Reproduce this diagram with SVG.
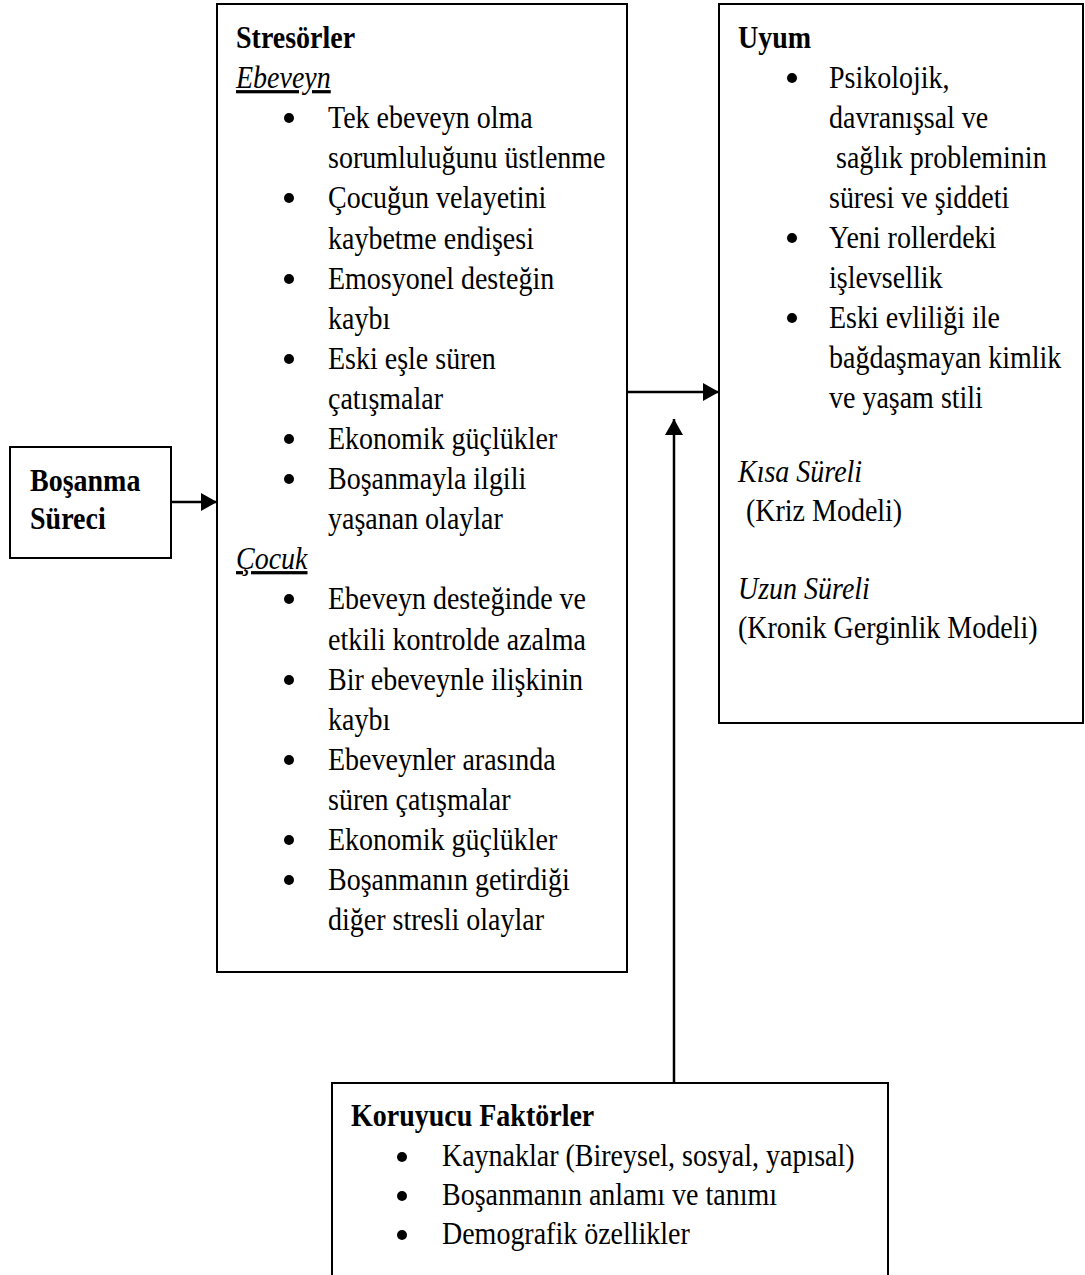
<svg xmlns="http://www.w3.org/2000/svg" width="1085" height="1275" viewBox="0 0 1085 1275">
<style>
  text { font-family: "Liberation Serif", "Times New Roman", serif; font-size: 28px; fill: #000;
         transform-box: fill-box; transform-origin: 0 80%; transform: scaleY(1.15); }
  .b { font-weight: bold; }
  .i { font-style: italic; }
  .u { text-decoration: underline; }
  .dot { fill: #000; }
  .box { fill: #fff; stroke: #000; stroke-width: 2; }
  .conn { stroke: #000; stroke-width: 2.5; fill: none; }
</style>
<defs>
  <marker id="arr" markerUnits="userSpaceOnUse" markerWidth="17" markerHeight="18" refX="16" refY="9" orient="auto">
    <path d="M0,0 L16,9 L0,18 Z" fill="#000"/>
  </marker>
</defs>
<rect width="1085" height="1275" fill="#fff"/>

<g id="bosanma">
  <rect class="box" x="10" y="447" width="161" height="111"/>
  <text class="b" x="30" y="491">Boşanma</text>
  <text class="b" x="30" y="529">Süreci</text>
</g>

<g id="stresorler">
  <rect class="box" x="217" y="4" width="410" height="968"/>
  <text class="b" x="236" y="48">Stresörler</text>
  <text class="i u" x="236" y="88">Ebeveyn</text>
  <circle class="dot" cx="289" cy="118" r="5"/><text x="328" y="128">Tek ebeveyn olma</text>
  <text x="328" y="168">sorumluluğunu üstlenme</text>
  <circle class="dot" cx="289" cy="198" r="5"/><text x="328" y="208">Çocuğun velayetini</text>
  <text x="328" y="249">kaybetme endişesi</text>
  <circle class="dot" cx="289" cy="279" r="5"/><text x="328" y="289">Emosyonel desteğin</text>
  <text x="328" y="329">kaybı</text>
  <circle class="dot" cx="289" cy="359" r="5"/><text x="328" y="369">Eski eşle süren</text>
  <text x="328" y="409">çatışmalar</text>
  <circle class="dot" cx="289" cy="439" r="5"/><text x="328" y="449">Ekonomik güçlükler</text>
  <circle class="dot" cx="289" cy="479" r="5"/><text x="328" y="489">Boşanmayla ilgili</text>
  <text x="328" y="529">yaşanan olaylar</text>
  <text class="i u" x="236" y="569">Çocuk</text>
  <circle class="dot" cx="289" cy="599" r="5"/><text x="328" y="609">Ebeveyn desteğinde ve</text>
  <text x="328" y="650">etkili kontrolde azalma</text>
  <circle class="dot" cx="289" cy="680" r="5"/><text x="328" y="690">Bir ebeveynle ilişkinin</text>
  <text x="328" y="730">kaybı</text>
  <circle class="dot" cx="289" cy="760" r="5"/><text x="328" y="770">Ebeveynler arasında</text>
  <text x="328" y="810">süren çatışmalar</text>
  <circle class="dot" cx="289" cy="840" r="5"/><text x="328" y="850">Ekonomik güçlükler</text>
  <circle class="dot" cx="289" cy="880" r="5"/><text x="328" y="890">Boşanmanın getirdiği</text>
  <text x="328" y="930">diğer stresli olaylar</text>
</g>

<g id="uyum">
  <rect class="box" x="719" y="4" width="364" height="719"/>
  <text class="b" x="738" y="48">Uyum</text>
  <circle class="dot" cx="792" cy="78" r="5"/><text x="829" y="88">Psikolojik,</text>
  <text x="829" y="128">davranışsal ve</text>
  <text x="836" y="168">sağlık probleminin</text>
  <text x="829" y="208">süresi ve şiddeti</text>
  <circle class="dot" cx="792" cy="238" r="5"/><text x="829" y="248">Yeni rollerdeki</text>
  <text x="829" y="288">işlevsellik</text>
  <circle class="dot" cx="792" cy="318" r="5"/><text x="829" y="328">Eski evliliği ile</text>
  <text x="829" y="368">bağdaşmayan kimlik</text>
  <text x="829" y="408">ve yaşam stili</text>
  <text class="i" x="738" y="482">Kısa Süreli</text>
  <text x="746" y="521">(Kriz Modeli)</text>
  <text class="i" x="738" y="599">Uzun Süreli</text>
  <text x="738" y="638">(Kronik Gerginlik Modeli)</text>
</g>

<g id="koruyucu">
  <rect class="box" x="332" y="1083" width="556" height="200"/>
  <text class="b" x="351" y="1126">Koruyucu Faktörler</text>
  <circle class="dot" cx="402" cy="1157" r="5"/><text x="442" y="1166">Kaynaklar (Bireysel, sosyal, yapısal)</text>
  <circle class="dot" cx="402" cy="1196" r="5"/><text x="442" y="1205">Boşanmanın anlamı ve tanımı</text>
  <circle class="dot" cx="402" cy="1235" r="5"/><text x="442" y="1244">Demografik özellikler</text>
</g>

<g id="connectors">
  <line class="conn" x1="171" y1="502" x2="217" y2="502" marker-end="url(#arr)"/>
  <line class="conn" x1="627" y1="392" x2="719" y2="392" marker-end="url(#arr)"/>
  <line class="conn" x1="674" y1="1083" x2="674" y2="419" marker-end="url(#arr)"/>
</g>
</svg>
